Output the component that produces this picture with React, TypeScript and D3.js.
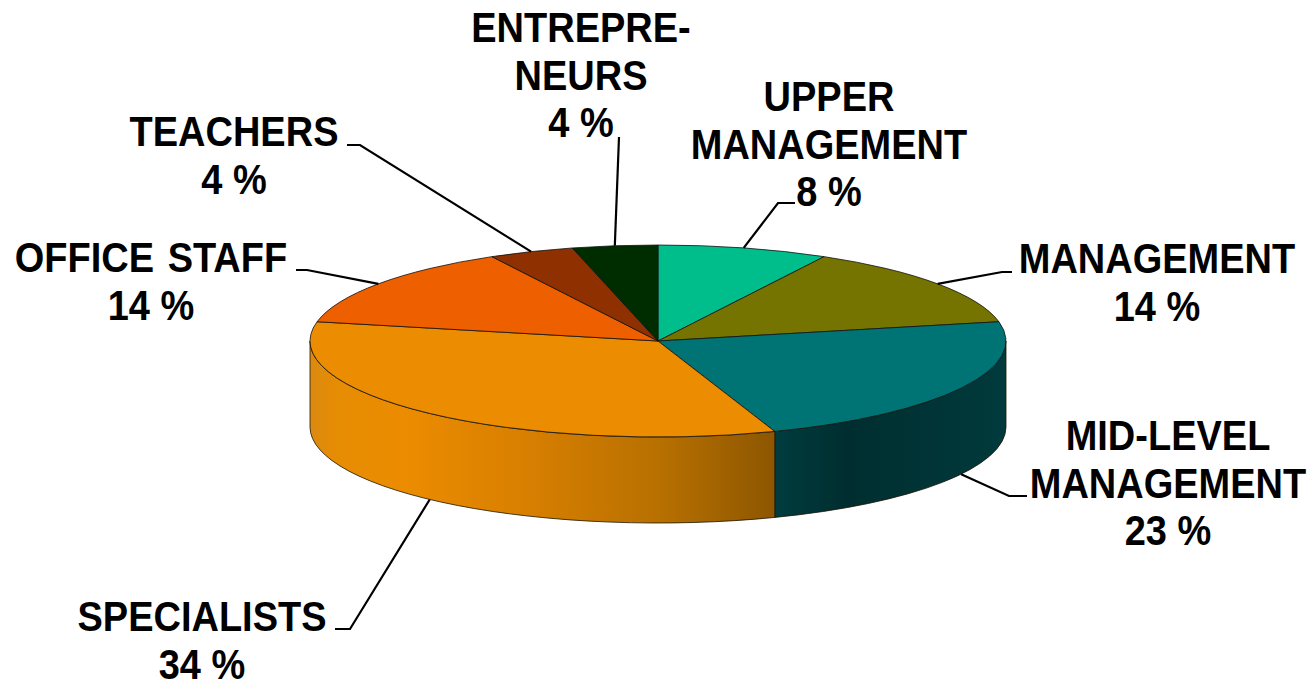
import React from "react";
import * as d3 from "d3";

const categories = ["UPPER MANAGEMENT", "MANAGEMENT", "MID-LEVEL MANAGEMENT", "SPECIALISTS", "OFFICE STAFF", "TEACHERS", "ENTREPRENEURS"];
const values = [8, 14, 23, 34, 14, 4, 4];
const colors = ["#00bd8c", "#767400", "#007475", "#ec8c00", "#ee5f00", "#8f3000", "#002d00"];
const labelLines = [
  ["UPPER", "MANAGEMENT", "8 %"],
  ["MANAGEMENT", "14 %"],
  ["MID-LEVEL", "MANAGEMENT", "23 %"],
  ["SPECIALISTS", "34 %"],
  ["OFFICE STAFF", "14 %"],
  ["TEACHERS", "4 %"],
  ["ENTREPRE-", "NEURS", "4 %"],
];

const W = 1313, H = 680;
const cx = 658, cy = 341, rx = 348, ry = 96, depth = 86;
const lineH = 47.7;
// label layout: centre x, first baseline, elbow points from label to slice
const labelPos: [number, number][] = [[829, 111], [1157, 273], [1168, 450], [202, 631], [151, 272], [234, 146], [581, 42]];
const elbows: [number, number][][] = [
  [[795, 203], [778, 203]],
  [[1012, 272], [1002, 272]],
  [[1027, 496], [1009, 496]],
  [[335, 629], [350, 629]],
  [[296, 270], [307, 270]],
  [[347, 145], [360, 145]],
  [[619, 137]],
];
const sideSlice = [false, false, true, true, false, false, false];

const px = (a: number) => cx + rx * Math.sin(a);
const py = (a: number, d = 0) => cy - ry * Math.cos(a) + d;

const arcPath = d3.pie<number>().sort(null).value((d) => d)(values);

function slicePath(a0: number, a1: number) {
  const large = a1 - a0 > Math.PI ? 1 : 0;
  return `M${cx},${cy}L${px(a0)},${py(a0)}A${rx},${ry} 0 ${large} 1 ${px(a1)},${py(a1)}Z`;
}
function wallPath(a0: number, a1: number) {
  const s = Math.max(a0, Math.PI / 2), e = Math.min(a1, (3 * Math.PI) / 2);
  return `M${px(s)},${py(s)}A${rx},${ry} 0 0 1 ${px(e)},${py(e)}L${px(e)},${py(e, depth)}A${rx},${ry} 0 0 0 ${px(s)},${py(s, depth)}Z`;
}

export default function App() {
  const line = d3.line();
  return (
    <svg width={W} height={H} style={{ position: "absolute", left: 0, top: 0, background: "#fff", display: "block" }}>
      <defs>
        <linearGradient id="wall3" gradientUnits="userSpaceOnUse" x1={cx - rx} x2={776} y1={0} y2={0}>
          <stop offset="0" stopColor="#d98a12" />
          <stop offset="0.05" stopColor="#e68c04" />
          <stop offset="0.2" stopColor="#ec8c00" />
          <stop offset="0.45" stopColor="#d98000" />
          <stop offset="0.75" stopColor="#b87000" />
          <stop offset="1" stopColor="#8c5600" />
        </linearGradient>
        <linearGradient id="wall2" gradientUnits="userSpaceOnUse" x1={776} x2={cx + rx} y1={0} y2={0}>
          <stop offset="0" stopColor="#003c3e" />
          <stop offset="0.3" stopColor="#002e30" />
          <stop offset="1" stopColor="#003a3c" />
        </linearGradient>
      </defs>
      {arcPath.map((d, i) =>
        sideSlice[i] ? (
          <path key={i} d={wallPath(d.startAngle, d.endAngle)} fill={`url(#wall${i})`} stroke="#1c1400" strokeWidth={0.8} />
        ) : null
      )}
      {arcPath.map((d, i) => (
        <path key={i} d={slicePath(d.startAngle, d.endAngle)} fill={colors[i]} stroke="#111" strokeWidth={0.8} strokeLinejoin="round">
          <title>{categories[i]}</title>
        </path>
      ))}
      {arcPath.map((d, i) => {
        const mid = (d.startAngle + d.endAngle) / 2;
        const front = sideSlice[i];
        const anchor: [number, number] = [px(mid), py(mid, front ? depth : 0)];
        return <path key={i} d={line([...elbows[i], anchor]) ?? ""} fill="none" stroke="#000" strokeWidth={2.2} />;
      })}
      <g fontFamily="'Liberation Sans', Arial, sans-serif" fontWeight={700} fontSize={38} textAnchor="middle" fill="#000">
        {labelLines.map((lines, i) =>
          lines.map((t, j) => (
            <text key={j} transform={`translate(${labelPos[i][0]},${labelPos[i][1] + j * lineH}) scale(1,1.12)`} wordSpacing={t === "OFFICE STAFF" ? 3 : 0}>
              {t}
            </text>
          ))
        )}
      </g>
    </svg>
  );
}
